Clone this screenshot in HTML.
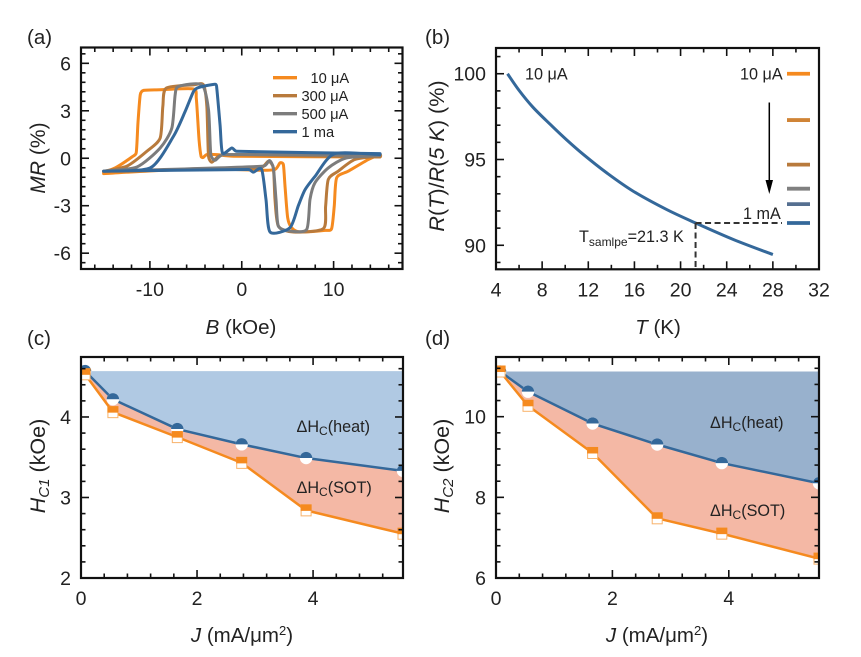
<!DOCTYPE html>
<html lang="en">
<head>
<meta charset="utf-8">
<title>Magnetoresistance and coercivity chart</title>
<style>
  html, body { margin: 0; padding: 0; background: #fff; }
  svg { display: block; font-family: "Liberation Sans", sans-serif; fill: #222; }
  .tick-label { font-size: 19.5px; }
  .title { font-size: 20.5px; }
  .note { font-size: 16.2px; }
</style>
</head>
<body>
<svg id="figure" xmlns="http://www.w3.org/2000/svg" width="861" height="657" viewBox="0 0 861 657">
  <defs>
    <clipPath id="clip-c"><rect x="81" y="357" width="322" height="221"/></clipPath>
    <clipPath id="clip-d"><rect x="496" y="357" width="323" height="221"/></clipPath>
  </defs>
  <g id="layer-marks"></g>
  <g id="layer-axes"></g>

  <text class="title" x="27" y="44">(a)</text>
  <text class="title" x="425" y="44">(b)</text>
  <text class="title" x="27" y="345">(c)</text>
  <text class="title" x="425" y="345">(d)</text>

  <text class="title" x="241" y="334" text-anchor="middle"><tspan font-style="italic">B</tspan> (kOe)</text>
  <text class="title" x="658" y="334" text-anchor="middle"><tspan font-style="italic">T</tspan> (K)</text>
  <text class="title" x="242" y="642" text-anchor="middle"><tspan font-style="italic">J</tspan> (mA/μm<tspan font-size="13" dy="-7">2</tspan><tspan dy="7">)</tspan></text>
  <text class="title" x="657" y="642" text-anchor="middle"><tspan font-style="italic">J</tspan> (mA/μm<tspan font-size="13" dy="-7">2</tspan><tspan dy="7">)</tspan></text>

  <text transform="translate(45 158) rotate(-90)" text-anchor="middle" font-size="21"><tspan font-style="italic">MR</tspan> (%)</text>
  <text transform="translate(444 156) rotate(-90)" text-anchor="middle" font-size="21.6"><tspan font-style="italic">R</tspan>(<tspan font-style="italic">T</tspan>)/<tspan font-style="italic">R</tspan>(<tspan font-style="italic">5 K</tspan>) (%)</text>
  <text transform="translate(45 466) rotate(-90)" text-anchor="middle" font-size="21.5"><tspan font-style="italic">H</tspan><tspan font-style="italic" font-size="15" dy="4">C1</tspan><tspan dy="-4"> (kOe)</tspan></text>
  <text transform="translate(449 466) rotate(-90)" text-anchor="middle" font-size="21.5"><tspan font-style="italic">H</tspan><tspan font-style="italic" font-size="15" dy="4">C2</tspan><tspan dy="-4"> (kOe)</tspan></text>

  <g>
    <line x1="273" x2="297" y1="77.7" y2="77.7" stroke="#f58a1f" stroke-width="3.4"/>
    <text x="310.5" y="83" font-size="14.7">10 μA</text>
    <line x1="273" x2="297" y1="95.7" y2="95.7" stroke="#b87a3c" stroke-width="3.4"/>
    <text x="301.5" y="101" font-size="14.7">300 μA</text>
    <line x1="273" x2="297" y1="113.7" y2="113.7" stroke="#7c7c7c" stroke-width="3.4"/>
    <text x="301.5" y="119" font-size="14.7">500 μA</text>
    <line x1="273" x2="297" y1="131.7" y2="131.7" stroke="#34689a" stroke-width="3.4"/>
    <text x="301.5" y="137" font-size="14.7">1 ma</text>
  </g>

  <text class="note" x="525" y="79.5">10 μA</text>
  <text class="note" x="740" y="79.5">10 μA</text>
  <text class="note" x="743" y="219">1 mA</text>
  <text class="note" x="579" y="242">T<tspan font-size="12" dy="4">samlpe</tspan><tspan dy="-4">=21.3 K</tspan></text>
  <line x1="769.3" x2="769.3" y1="102.5" y2="182" stroke="#000" stroke-width="1.5"/>
  <polygon points="765.5,180 773,180 769.3,194" fill="#000"/>

  <text class="note" x="296.5" y="432">ΔH<tspan font-size="12" dy="3">C</tspan><tspan dy="-3">(heat)</tspan></text>
  <text class="note" x="296.5" y="493">ΔH<tspan font-size="12" dy="3">C</tspan><tspan dy="-3">(SOT)</tspan></text>
  <text class="note" x="710" y="428">ΔH<tspan font-size="12" dy="3">C</tspan><tspan dy="-3">(heat)</tspan></text>
  <text class="note" x="710" y="516">ΔH<tspan font-size="12" dy="3">C</tspan><tspan dy="-3">(SOT)</tspan></text>
</svg>

<script>
// ---- Panel (a): MR vs B, loop branches ----
const fieldOrange = [-15.04,-13.59,-11.96,-11.49,-11.30,-11.05,-10.69,-8.88,-5.25,-4.95,-4.65,-4.42,-4.2,-3.80,-2.72,-0.91,15.04,15.04,13.77,11.59,10.33,10.07,9.78,9.06,6.34,5.43,5.0,4.71,4.53,4.17,3.62,1.99,-5.25,-15.04];
const mrOrange = [-0.92,-0.55,0.08,0.34,2.23,4.01,4.29,4.33,4.38,3.8,1.18,0.1,0.05,0.23,0.23,0.13,0.08,0.23,-0.08,-0.82,-1.24,-3.03,-4.45,-4.56,-4.66,-4.39,-3.76,-1.76,-0.4,-0.29,-0.71,-0.76,-0.67,-0.97];
const fieldBrown = [-15.04,-12.5,-10.33,-8.88,-8.59,-8.22,-5.25,-4.17,-3.8,-3.62,-3.26,-2.54,-1.63,15.04,15.04,12.32,10.5,9.42,9.13,8.88,5.62,3.99,3.62,3.44,2.9,1.99,-15.04];
const mrBrown = [-0.82,-0.5,0.44,1.28,3.28,4.43,4.64,4.64,3.28,0.13,-0.25,0.13,0.23,0.08,0.13,-0.08,-0.82,-1.34,-3.03,-4.45,-4.66,-4.29,-2.61,-0.61,-0.19,-0.61,-0.82];
const fieldGray = [-15.04,-11.41,-8.88,-7.61,-7.25,-6.88,-4.35,-3.62,-3.37,-2.9,-1.99,15.04,15.04,11.41,9.42,7.97,7.43,7.07,5.25,3.99,3.73,3.44,3.01,2.36,-15.04];
const mrGray = [-0.82,-0.55,0.65,1.91,4.01,4.54,4.64,3.07,0.23,-0.13,0.23,0.17,0.17,0.02,-0.61,-1.55,-2.6,-4.5,-4.6,-4.29,-2.61,-0.61,-0.15,-0.5,-0.82];
const fieldBlue = [-15.04,-9.96,-7.43,-6.16,-5.25,-4.71,-2.9,-2.72,-2.36,-2.1,-1.09,-0.54,15.04,15.04,10.1,7.97,6.88,6.16,5.25,3.08,2.64,2.17,1.27,0.72,-15.04];
const mrBlue = [-0.82,-0.61,1.39,2.96,4.22,4.47,4.68,4.43,2.1,0.34,0.65,0.44,0.29,0.23,0.29,-1.15,-2.0,-3.0,-4.39,-4.66,-2.61,-0.71,-0.88,-0.71,-0.82];
const xTicksA = [-10, 0, 10];
const yTicksA = [-6, -3, 0, 3, 6];

// ---- Panel (b): R(T)/R(5 K) ----
const temperature = [5, 6, 7.2, 8.7, 10.1, 11.6, 13.6, 15.9, 18.8, 21.3, 24.6, 28];
const resistance = [100, 99.03, 98.05, 97.05, 96.16, 95.28, 94.22, 93.15, 92.08, 91.3, 90.33, 89.46];
const currentLevels = [100, 97.3, 94.7, 93.3, 92.4, 91.3];
const sampleTemperature = [21.3];
const sampleResistance = [91.3];
const xTicksB = [4, 8, 12, 16, 20, 24, 28, 32];
const yTicksB = [90, 95, 100];

// ---- Panels (c), (d): coercive field vs current density ----
const currentDensity = [0.07, 0.55, 1.66, 2.77, 3.88, 5.55];
const hc1Heat = [4.57, 4.22, 3.85, 3.66, 3.49, 3.33];
const hc1Sot = [4.53, 4.06, 3.75, 3.43, 2.84, 2.55];
const hc2Heat = [11.12, 10.62, 9.83, 9.31, 8.85, 8.35];
const hc2Sot = [11.12, 10.27, 9.10, 7.48, 7.10, 6.48];
const xTicksCD = [0, 2, 4];
const yTicksC = [2, 3, 4];
const yTicksD = [6, 8, 10];

const NS = 'http://www.w3.org/2000/svg';
const marks = document.getElementById('layer-marks');
const axes = document.getElementById('layer-axes');

function mk(parent, tag, attrs) {
  const el = document.createElementNS(NS, tag);
  for (const k in attrs) el.setAttribute(k, attrs[k]);
  parent.appendChild(el);
  return el;
}

function makeAxes(box) {
  const sx = v => box.left + (v - box.xMin) / (box.xMax - box.xMin) * (box.right - box.left);
  const sy = v => box.bottom - (v - box.yMin) / (box.yMax - box.yMin) * (box.bottom - box.top);
  return { sx, sy, box };
}

function drawAxes(ax, xTicks, yTicks, xMinorStep, yMinorStep, rightTicks, id) {
  const b = ax.box;
  const g = mk(axes, 'g', { stroke: '#111', 'stroke-width': 1.6 });
  
  
  const nx = Math.round((b.xMax - b.xMin) / xMinorStep);
  for (let i = 0; i <= nx; i++) {
    const v = b.xStart + i * xMinorStep;
    if (v < b.xMin - 1e-6 || v > b.xMax + 1e-6) continue;
    const major = xTicks.some(t => Math.abs(t - v) < 1e-6);
    const len = major ? 8 : 4.5;
    const x = ax.sx(v);
    mk(g, 'line', { x1: x, x2: x, y1: b.bottom, y2: b.bottom - len });
    mk(g, 'line', { x1: x, x2: x, y1: b.top, y2: b.top + len });
  }
  const ny = Math.round((b.yMax - b.yMin) / yMinorStep);
  for (let i = 0; i <= ny; i++) {
    const v = b.yStart + i * yMinorStep;
    if (v < b.yMin - 1e-6 || v > b.yMax + 1e-6) continue;
    const major = yTicks.some(t => Math.abs(t - v) < 1e-6);
    const len = major ? 8 : 4.5;
    const y = ax.sy(v);
    mk(g, 'line', { x1: b.left, x2: b.left + len, y1: y, y2: y });
    if (rightTicks) mk(g, 'line', { x1: b.right, x2: b.right - len, y1: y, y2: y });
  }
  const frame = mk(axes, 'rect', { x: b.left, y: b.top, width: b.right - b.left, height: b.bottom - b.top, fill: 'none', stroke: '#111', 'stroke-width': 2.2 });
  
  
  xTicks.forEach(t => {
    const lab = mk(axes, 'text', { x: ax.sx(t), y: b.bottom + 27, 'text-anchor': 'middle', class: 'tick-label' });
    
    
    lab.textContent = t;
  });
  yTicks.forEach(t => {
    const lab = mk(axes, 'text', { x: b.left - 10, y: ax.sy(t) + 7, 'text-anchor': 'end', class: 'tick-label' });
    
    
    lab.textContent = t;
  });
}

function pts(ax, xs, ys) {
  return xs.map((x, i) => ax.sx(x).toFixed(2) + ',' + ax.sy(ys[i]).toFixed(2)).join(' ');
}

// Catmull-Rom style smoothing; handle lengths are limited to a share of the
// segment so that turnarounds and short segments never overshoot.
function handle(dx, dy, k, segLen) {
  let hx = dx * k, hy = dy * k;
  const len = Math.hypot(hx, hy), max = 0.42 * segLen;
  if (len > max && len > 0) { hx *= max / len; hy *= max / len; }
  return [hx, hy];
}

function smoothPath(ax, xs, ys, k) {
  const P = xs.map((x, i) => [ax.sx(x), ax.sy(ys[i])]);
  let d = 'M' + P[0][0].toFixed(2) + ' ' + P[0][1].toFixed(2);
  for (let i = 0; i < P.length - 1; i++) {
    const p0 = P[Math.max(0, i - 1)], p1 = P[i], p2 = P[i + 1], p3 = P[Math.min(P.length - 1, i + 2)];
    const seg = Math.hypot(p2[0] - p1[0], p2[1] - p1[1]);
    const h1 = handle(p2[0] - p0[0], p2[1] - p0[1], k, seg);
    const h2 = handle(p3[0] - p1[0], p3[1] - p1[1], k, seg);
    d += ' C' + (p1[0] + h1[0]).toFixed(2) + ' ' + (p1[1] + h1[1]).toFixed(2) + ' ' + (p2[0] - h2[0]).toFixed(2) + ' ' + (p2[1] - h2[1]).toFixed(2) + ' ' + p2[0].toFixed(2) + ' ' + p2[1].toFixed(2);
  }
  return d;
}

// Panel (a)
const axA = makeAxes({ left: 81, right: 402.5, top: 47.5, bottom: 269, xMin: -17.5, xMax: 17.5, yMin: -7, yMax: 7, xStart: -16, yStart: -6.6 });
[[fieldOrange, mrOrange, '#f58a1f', 'loop-10ua'], [fieldBrown, mrBrown, '#b87a3c', 'loop-300ua'], [fieldGray, mrGray, '#7c7c7c', 'loop-500ua'], [fieldBlue, mrBlue, '#34689a', 'loop-1ma']].forEach(s => {
  const line = mk(marks, 'path', { d: smoothPath(axA, s[0], s[1], 0.12), fill: 'none', stroke: s[2], 'stroke-width': 3, 'stroke-linejoin': 'round', 'stroke-linecap': 'round' });
  
  
});
drawAxes(axA, xTicksA, yTicksA, 2, 0.6, true, 'a');

// Panel (b)
const axB = makeAxes({ left: 496, right: 819, top: 48, bottom: 269.3, xMin: 4, xMax: 32, yMin: 88.6, yMax: 101.5, xStart: 4, yStart: 89 });
const curve = mk(marks, 'path', { d: smoothPath(axB, temperature, resistance, 1 / 6), fill: 'none', stroke: '#34689a', 'stroke-width': 3, 'stroke-linejoin': 'round' });


const dashV = mk(marks, 'line', { x1: axB.sx(sampleTemperature[0]), x2: axB.sx(sampleTemperature[0]), y1: axB.sy(sampleResistance[0]), y2: axB.box.bottom, stroke: '#333', 'stroke-width': 2, 'stroke-dasharray': '6 3.5' });


const dashH = mk(marks, 'line', { x1: axB.sx(sampleTemperature[0]), x2: 782, y1: axB.sy(sampleResistance[0]), y2: axB.sy(sampleResistance[0]), stroke: '#333', 'stroke-width': 2, 'stroke-dasharray': '6 3.5' });


const levelColors = ['#f58a1f', '#d08436', '#b87a3c', '#808080', '#556f90', '#34689a'];
currentLevels.forEach((v, i) => {
  const rung = mk(marks, 'line', { x1: 787, x2: 810, y1: axB.sy(v), y2: axB.sy(v), stroke: levelColors[i], 'stroke-width': 3.8 });
  
  
});
drawAxes(axB, xTicksB, yTicksB, 2, 1, false, 'b');

function halfMarkers(group, ax, xs, ys, kind, color) {
  xs.forEach((x, i) => {
    const cx = ax.sx(x), cy = ax.sy(ys[i]);
    const m = mk(group, 'g', {});
    
    
    if (kind === 'circle') {
      const r = 6.2;
      mk(m, 'circle', { cx: cx, cy: cy, r: r, fill: '#fff' });
      mk(m, 'path', { d: 'M' + (cx - r) + ' ' + cy + ' A' + r + ' ' + r + ' 0 0 1 ' + (cx + r) + ' ' + cy + ' Z', fill: color });
    } else {
      const h = 5;
      mk(m, 'rect', { x: cx - h, y: cy - h - 0.5, width: 2 * h, height: 2 * h + 1, fill: '#fff', stroke: '#f8b26a', 'stroke-width': 1 });
      mk(m, 'rect', { x: cx - h - 0.5, y: cy - h - 1, width: 2 * h + 1, height: h + 1.5, fill: color });
    }
  });
}

function coercivePanel(ax, id, heat, sot, blueFill, clipId, xTicks, yTicks, yMinor) {
  const g = mk(marks, 'g', { 'clip-path': 'url(#' + clipId + ')' });
  
  
  const X = currentDensity;
  const heatPts = pts(ax, X, heat);
  const sotRev = pts(ax, X.slice().reverse(), sot.slice().reverse());
  const top = ax.sx(X[X.length - 1]).toFixed(2) + ',' + ax.sy(heat[0]).toFixed(2);
  const a1 = mk(g, 'polygon', { points: heatPts + ' ' + top, fill: blueFill });
  
  
  const a2 = mk(g, 'polygon', { points: heatPts + ' ' + sotRev, fill: '#f4b8a5' });
  
  
  const l1 = mk(g, 'polyline', { points: heatPts, fill: 'none', stroke: '#34689a', 'stroke-width': 2.5, 'stroke-linejoin': 'round' });
  
  
  const l2 = mk(g, 'polyline', { points: pts(ax, X, sot), fill: 'none', stroke: '#f58a1f', 'stroke-width': 2.5, 'stroke-linejoin': 'round' });
  
  
  halfMarkers(g, ax, X, heat, 'circle', '#34689a');
  halfMarkers(g, ax, X, sot, 'square', '#f58a1f');
  drawAxes(ax, xTicks, yTicks, 0.4, yMinor, true, id);
}

const axC = makeAxes({ left: 81, right: 403, top: 357, bottom: 578, xMin: 0, xMax: 5.55, yMin: 2, yMax: 4.745, xStart: 0, yStart: 2 });
coercivePanel(axC, 'c', hc1Heat, hc1Sot, '#b0c9e3', 'clip-c', xTicksCD, yTicksC, 0.2);

const axD = makeAxes({ left: 496, right: 819, top: 357, bottom: 578, xMin: 0, xMax: 5.55, yMin: 6, yMax: 11.48, xStart: 0, yStart: 6 });
coercivePanel(axD, 'd', hc2Heat, hc2Sot, '#98b1cd', 'clip-d', xTicksCD, yTicksD, 0.4);
</script>
</body>
</html>
